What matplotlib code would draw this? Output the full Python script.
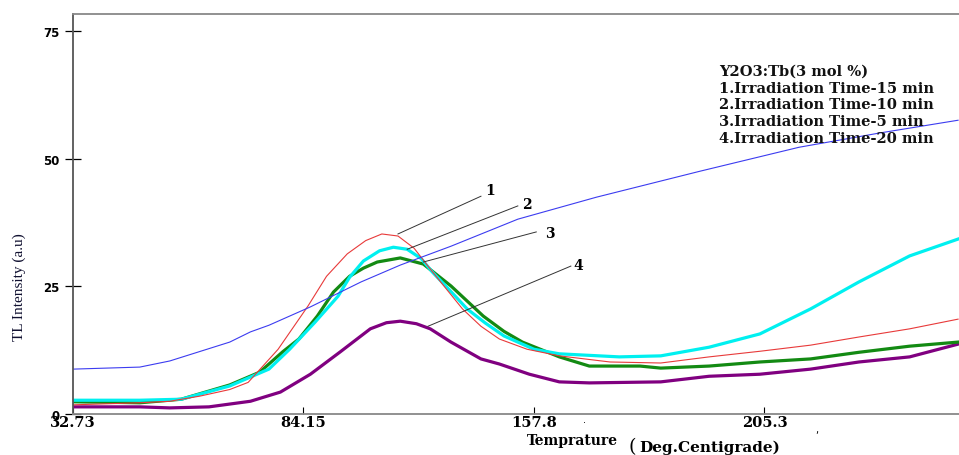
import matplotlib
matplotlib.use("Agg")
from matplotlib import pyplot as plt

# x is in tick-interval units: the four labelled ticks sit at 0, 1, 2, 3
x_ticks = [0, 1, 2, 3]
x_labels = ["32.73", "84.15", "157.8", "205.3"]
y_ticks = [0, 25, 50, 75]

blue_x = [0, 0.29, 0.42, 0.68, 0.77, 0.85, 1.03, 1.25, 1.42, 1.64, 1.93, 2.27, 2.72, 3.15, 3.50, 3.84]
blue_y = [8.8, 9.2, 10.4, 14.1, 16.1, 17.4, 21.0, 25.9, 29.2, 32.9, 38.2, 42.5, 47.6, 52.3, 55.1, 57.6]

red_x = [0, 0.29, 0.42, 0.55, 0.68, 0.76, 0.89, 1.02, 1.10, 1.19, 1.27, 1.34, 1.41, 1.48, 1.54, 1.62, 1.69,
         1.77, 1.85, 1.97, 2.11, 2.33, 2.55, 2.76, 2.98, 3.20, 3.41, 3.63, 3.84]
red_y = [1.8, 2.2, 2.5, 3.5, 4.8, 6.2, 12.7, 21.2, 27.0, 31.4, 34.0, 35.3, 34.9, 32.5, 29.0, 24.5, 20.6,
         17.2, 14.7, 12.7, 11.4, 10.2, 10.0, 11.2, 12.3, 13.5, 15.1, 16.7, 18.6]

cyan_x = [0, 0.29, 0.47, 0.68, 0.85, 0.94, 1.05, 1.15, 1.20, 1.26, 1.33, 1.39, 1.45, 1.51, 1.56, 1.64, 1.71,
          1.79, 1.87, 2.00, 2.11, 2.37, 2.55, 2.76, 2.98, 3.20, 3.41, 3.63, 3.84]
cyan_y = [2.7, 2.7, 2.9, 5.5, 8.8, 12.7, 18.0, 23.1, 26.8, 30.0, 32.0, 32.7, 32.3, 30.5, 27.8, 24.0, 20.6,
          17.8, 15.3, 12.7, 11.8, 11.2, 11.4, 13.1, 15.7, 20.6, 25.9, 31.0, 34.3]

green_x = [0, 0.29, 0.47, 0.68, 0.81, 0.91, 0.98, 1.06, 1.13, 1.20, 1.26, 1.32, 1.42, 1.52, 1.64, 1.78, 1.87,
           1.95, 2.11, 2.24, 2.46, 2.55, 2.76, 2.98, 3.20, 3.41, 3.63, 3.84]
green_y = [2.4, 2.2, 2.9, 5.7, 8.2, 12.2, 14.7, 19.2, 23.9, 27.0, 28.6, 29.8, 30.6, 29.4, 25.1, 19.2, 16.2,
           14.1, 11.2, 9.4, 9.4, 9.0, 9.4, 10.2, 10.8, 12.1, 13.3, 14.1]

purple_x = [0, 0.29, 0.42, 0.59, 0.77, 0.90, 1.03, 1.16, 1.29, 1.36, 1.42, 1.49, 1.55, 1.64, 1.77,
            1.85, 1.98, 2.11, 2.24, 2.55, 2.76, 2.98, 3.20, 3.41, 3.63, 3.84]
purple_y = [1.4, 1.4, 1.2, 1.4, 2.5, 4.3, 7.8, 12.2, 16.7, 17.9, 18.2, 17.7, 16.7, 14.1, 10.8,
            9.8, 7.8, 6.3, 6.1, 6.3, 7.4, 7.8, 8.8, 10.2, 11.2, 13.7]

legend_lines = ["Y2O3:Tb(3 mol %)",
                "1.Irradiation Time-15 min",
                "2.Irradiation Time-10 min",
                "3.Irradiation Time-5 min",
                "4.Irradiation Time-20 min"]

# curve labels: (label, label pos, line start, point on curve)
callouts = [("1", (1.81, 43.9), (1.77, 42.7), (1.41, 35.3)),
            ("2", (1.97, 41.2), (1.93, 40.8), (1.45, 32.3)),
            ("3", (2.07, 35.5), (2.01, 35.7), (1.52, 29.8)),
            ("4", (2.19, 29.2), (2.16, 29.0), (1.54, 17.2))]

fig = plt.figure(figsize=(9.59, 4.56), dpi=100)
ax = fig.add_axes([0.0761, 0.0899, 0.9239, 0.878])

ax.plot(purple_x, purple_y, color="#800080", lw=2.3, solid_joinstyle="round")
ax.plot(green_x, green_y, color="#138a13", lw=2.3, solid_joinstyle="round")
ax.plot(cyan_x, cyan_y, color="#00f0f0", lw=2.3, solid_joinstyle="round")
ax.plot(red_x, red_y, color="#e83a3a", lw=0.8)
ax.plot(blue_x, blue_y, color="#3c3cf0", lw=0.8)

for lab, (lx, ly), (sx, sy), (px, py) in callouts:
    ax.plot([px, sx], [py, sy], color="#333333", lw=0.7)
    ax.text(lx, ly, lab, family="DejaVu Serif", fontweight="bold",
            fontsize=10, ha="center", va="center")

ax.set_xlim(0, 3.844)
ax.set_ylim(0, 78.5)

ax.set_xticks(x_ticks)
ax.set_xticklabels(x_labels, family="DejaVu Serif", fontweight="bold", fontsize=10.5)
ax.tick_params(axis="x", direction="in", length=5, width=0.8, pad=1)
ax.set_yticks(y_ticks)
ax.set_yticklabels([str(v) for v in y_ticks], fontweight="bold", fontsize=8.5)
ax.tick_params(axis="y", direction="inout", length=11, width=0.9, pad=4)

for side in ["top", "bottom"]:
    ax.spines[side].set_color("#888888")
    ax.spines[side].set_linewidth(1.3)
ax.spines["left"].set_color("#555555")
ax.spines["left"].set_linewidth(1.3)
ax.spines["right"].set_visible(False)

for i, line in enumerate(legend_lines):
    fig.text(719 / 959, 1 - (72 + 16.7 * i) / 456, line, family="DejaVu Serif",
             fontweight="bold", fontsize=10.5, va="center", ha="left", color="#111111")

fig.text(572 / 959, 1 - 441 / 456, "Temprature", family="DejaVu Serif",
         fontweight="bold", fontsize=10, ha="center", va="center")
fig.text(632 / 959, 1 - 447 / 456, "(", family="DejaVu Serif",
         fontsize=14, ha="center", va="center")
fig.text(710 / 959, 1 - 448 / 456, "Deg.Centigrade)", family="DejaVu Serif",
         fontweight="bold", fontsize=11, ha="center", va="center")

fig.text(19 / 959, 1 - 287 / 456, "TL Intensity (a.u)", family="Liberation Serif",
         fontsize=11, rotation=90, ha="center", va="center", color="#101030")

fig.text(585 / 959, 1 - 420 / 456, ".", fontsize=7, ha="center", va="center")
fig.text(817 / 959, 1 - 430 / 456, ",", fontsize=7, ha="center", va="center")

fig.savefig("out.png", dpi=100)
